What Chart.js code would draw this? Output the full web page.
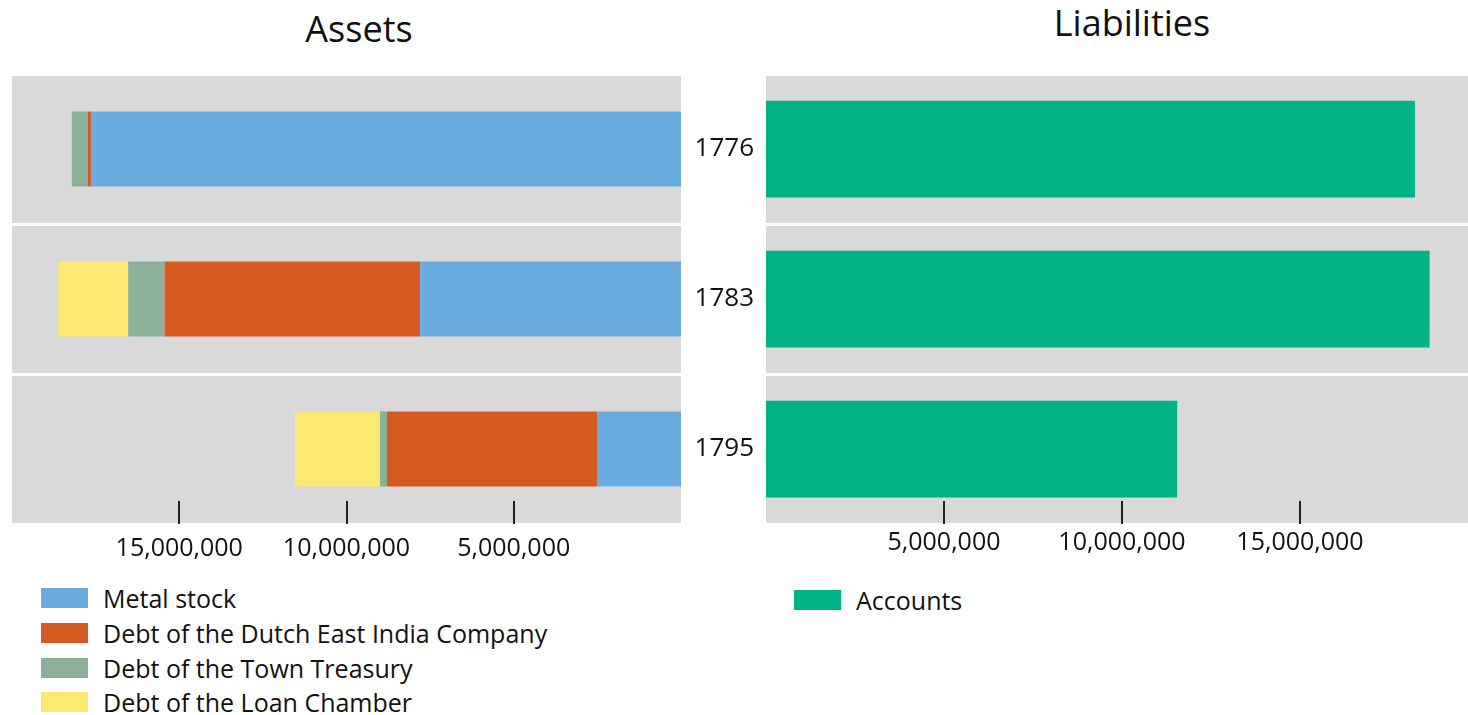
<!DOCTYPE html>
<html>
<head>
<meta charset="utf-8">
<script src="https://cdn.jsdelivr.net/npm/chart.js@4.4.0/dist/chart.umd.min.js"></script>
<style>
  body { margin: 0; width: 1468px; height: 715px; overflow: hidden; background: #fff; font-family: "Open Sans", sans-serif; color: #111; }
  .title { position: absolute; font-size: 36px; line-height: 36px; transform: translateX(-50%); white-space: nowrap; }
  .wrap { position: absolute; }
  .legend { position: absolute; font-size: 25px; }
  .legend .row { display: flex; align-items: center; height: 34.7px; }
  .legend .box { width: 47px; height: 20px; margin-right: 15px; }
</style>
</head>
<body>

<div class="title" style="left:359px; top:11px;">Assets</div>
<div class="title" style="left:1132px; top:5px;">Liabilities</div>

<div class="wrap" style="left:0px; top:60px; width:700px; height:520px;"><canvas id="assetsChart"></canvas></div>
<div class="wrap" style="left:680px; top:60px; width:798px; height:520px;"><canvas id="liabChart"></canvas></div>

<div class="legend" id="assetsLegend" style="left:41px; top:581px;"></div>
<div class="legend" id="liabLegend" style="left:794px; top:583px;"></div>

<script>
//-----------------------------------
// Data (guilders)
//-----------------------------------
var years = ['1776', '1783', '1795'];
var metalStock = [17640000, 7800000, 2510000];
var debtVOC = [90000, 7640000, 6280000];
var debtTownTreasury = [480000, 1085000, 210000];
var debtLoanChamber = [0, 2090000, 2540000];
var accounts = [18230000, 18640000, 11550000];

var tickValues = [5000000, 10000000, 15000000];

Chart.defaults.font.family = '"Open Sans", sans-serif';
Chart.defaults.color = '#111';
Chart.defaults.animation = false;

// grey plot background
var bgPlugin = {
  id: 'plotBg',
  beforeDraw: function (chart) {
    var a = chart.chartArea;
    var ctx = chart.ctx;
    ctx.save();
    ctx.fillStyle = '#d9d9d9';
    ctx.fillRect(a.left, a.top, a.right - a.left, a.bottom - a.top);
    ctx.restore();
  }
};

// short tick marks pointing up into the plot
var innerTicks = {
  id: 'innerTicks',
  afterDatasetsDraw: function (chart) {
    var x = chart.scales.x;
    var a = chart.chartArea;
    var ctx = chart.ctx;
    ctx.save();
    ctx.strokeStyle = '#222';
    ctx.lineWidth = 2;
    tickValues.forEach(function (v) {
      var px = Math.round(x.getPixelForValue(v));
      ctx.beginPath();
      ctx.moveTo(px, a.bottom - 23);
      ctx.lineTo(px, a.bottom);
      ctx.stroke();
    });
    ctx.restore();
  }
};

function fmt(v) {
  return tickValues.indexOf(v) >= 0 ? v.toLocaleString('en-US') : '';
}

function buildLegend(chart, id) {
  var html = '';
  chart.data.datasets.forEach(function (ds) {
    html += '<div class="row"><span class="box" style="background:' + ds.backgroundColor + '"></span>' + ds.label + '</div>';
  });
  document.getElementById(id).innerHTML = html;
}

//---------------------------------------------------------
// Assets, stacked and running right to left
//---------------------------------------------------------
var assetsChart = new Chart(document.getElementById('assetsChart'), {
  type: 'bar',
  data: {
    labels: years,
    datasets: [
      { label: 'Metal stock', data: metalStock, backgroundColor: '#6aace0' },
      { label: 'Debt of the Dutch East India Company', data: debtVOC, backgroundColor: '#d55b22' },
      { label: 'Debt of the Town Treasury', data: debtTownTreasury, backgroundColor: '#8bb19a' },
      { label: 'Debt of the Loan Chamber', data: debtLoanChamber, backgroundColor: '#fde874' }
    ]
  },
  options: {
    indexAxis: 'y',
    responsive: true,
    maintainAspectRatio: false,
    layout: { padding: { top: 14, right: 19, left: 0, bottom: 0 } },
    datasets: { bar: { barPercentage: 0.5, categoryPercentage: 1 } },
    scales: {
      x: {
        stacked: true,
        reverse: true,
        min: 0,
        max: 20000000,
        border: { display: false },
        grid: { display: false },
        ticks: { stepSize: 5000000, autoSkip: false, maxRotation: 0, padding: 2, font: { size: 25 }, callback: fmt },
        afterFit: function (s) { s.height = 56; }
      },
      y: {
        stacked: true,
        border: { display: false },
        grid: { color: '#ffffff', lineWidth: 3, drawTicks: false },
        ticks: { display: false },
        afterFit: function (s) { s.width = 12; }
      }
    },
    plugins: { legend: { display: false }, tooltip: { enabled: false } }
  },
  plugins: [bgPlugin, innerTicks]
});
buildLegend(assetsChart, 'assetsLegend');

//---------------------------------------------------------
// Liabilities
//---------------------------------------------------------
var liabChart = new Chart(document.getElementById('liabChart'), {
  type: 'bar',
  data: {
    labels: years,
    datasets: [
      { label: 'Accounts', data: accounts, backgroundColor: '#00b386' }
    ]
  },
  options: {
    indexAxis: 'y',
    responsive: true,
    maintainAspectRatio: false,
    layout: { padding: { top: 14, right: 0, left: 0, bottom: 0 } },
    datasets: { bar: { barPercentage: 0.645, categoryPercentage: 1 } },
    scales: {
      x: {
        min: 0,
        max: 20000000,
        border: { display: false },
        grid: { display: false },
        ticks: { stepSize: 5000000, autoSkip: false, maxRotation: 0, padding: -4, font: { size: 25 }, callback: fmt },
        afterFit: function (s) { s.height = 56; }
      },
      y: {
        border: { display: false },
        grid: { color: '#ffffff', lineWidth: 3, drawTicks: true, tickLength: 12 },
        ticks: { padding: 0, font: { size: 26, lineHeight: 1 } },
        afterFit: function (s) { s.width = 86; }
      }
    },
    plugins: { legend: { display: false }, tooltip: { enabled: false } }
  },
  plugins: [bgPlugin, innerTicks]
});
buildLegend(liabChart, 'liabLegend');
</script>
</body>
</html>
